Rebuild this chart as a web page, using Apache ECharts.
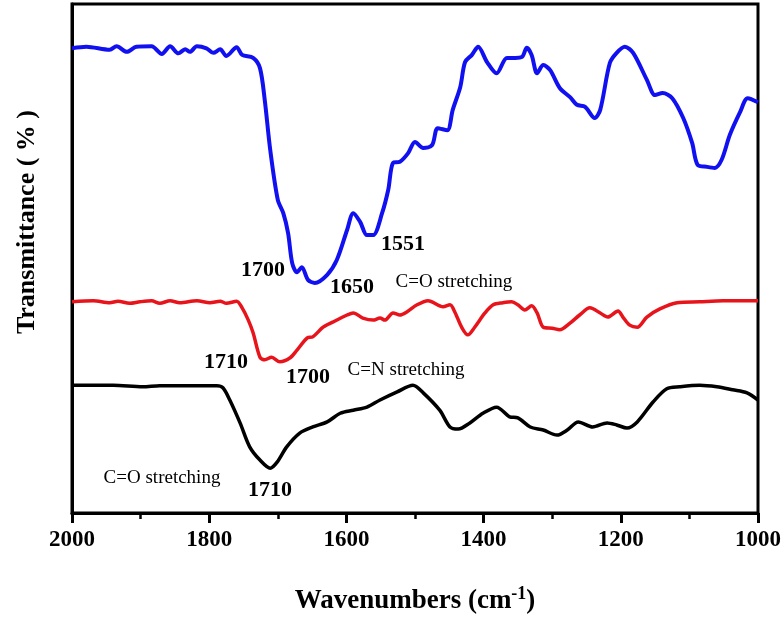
<!DOCTYPE html>
<html>
<head>
<meta charset="utf-8">
<script src="https://cdn.jsdelivr.net/npm/echarts@6/dist/echarts.min.js"></script>
<style>html,body{margin:0;padding:0;background:#fff;}#chart{width:784px;height:617px;}</style>
</head>
<body>
<div id="chart"></div>
<script>
// Blue spectrum (top)
const blueWn = [2000,1979,1945,1935,1920,1906,1884,1869,1857,1845,1835,1828,1818,1804,1794,1784,1775,1760,1752,1736,1726,1719,1711,1700,1692,1685,1679,1672,1665,1656,1646,1628,1614,1599,1590,1580,1570,1561,1548,1539,1532,1522,1510,1500,1488,1475,1467,1453,1445,1434,1427,1417,1408,1395,1381,1366,1354,1344,1337,1330,1322,1313,1303,1289,1274,1264,1252,1238,1230,1216,1206,1194,1182,1162,1150,1139,1125,1109,1096,1088,1074,1063,1053,1041,1026,1015,1000];
const blueT = [91.3,91.6,91.0,91.7,90.6,91.6,91.7,90.2,91.7,90.3,91.1,90.6,91.7,91.3,90.4,91.1,89.8,91.5,90.0,89.4,87.4,81.1,71.3,61.5,58.9,55.0,49.1,47.3,48.3,45.8,45.2,46.8,49.7,55.6,58.9,57.2,54.6,54.6,58.9,63.5,68.8,69.0,70.7,72.9,71.7,72.3,75.6,75.2,79.2,83.7,88.6,90.0,91.6,88.6,86.4,89.4,89.4,89.6,91.4,90.0,86.4,88.0,87.0,83.5,81.7,80.2,79.8,77.6,79.2,88.4,90.4,91.6,90.4,85.1,82.1,82.5,81.5,77.6,72.7,68.4,68.0,67.8,69.4,74.3,78.8,81.5,80.7];

// Red spectrum (middle)
const redWn = [2000,1969,1945,1933,1916,1901,1884,1872,1857,1843,1818,1799,1784,1775,1760,1752,1743,1736,1726,1719,1709,1697,1682,1672,1657,1649,1634,1620,1599,1590,1576,1561,1551,1544,1532,1522,1512,1497,1481,1459,1449,1442,1432,1423,1413,1398,1386,1372,1359,1350,1340,1330,1322,1313,1300,1289,1274,1260,1245,1230,1219,1204,1197,1187,1176,1162,1143,1118,1085,1051,1000];
const redT = [41.5,41.7,41.3,41.6,41.2,41.5,41.7,41.2,41.7,41.3,41.7,41.3,41.6,41.2,41.6,40.3,37.9,35.4,30.6,30.1,30.6,29.7,30.5,32.0,34.4,34.6,36.5,37.5,38.9,39.3,38.3,37.9,38.3,37.9,39.3,38.9,39.5,40.9,41.7,40.5,40.9,39.5,36.5,35.0,36.5,39.3,40.9,41.3,41.5,40.9,39.9,40.7,39.3,36.5,36.3,36.0,37.3,38.9,40.3,39.3,38.5,39.7,38.5,36.9,36.5,38.5,40.1,41.3,41.5,41.7,41.7];

// Black spectrum (bottom)
const blackWn = [2000,1940,1897,1872,1789,1780,1770,1755,1741,1726,1711,1701,1687,1668,1649,1628,1609,1590,1570,1551,1526,1503,1488,1464,1449,1437,1420,1401,1381,1362,1350,1332,1313,1293,1278,1262,1241,1220,1206,1191,1176,1153,1133,1114,1085,1060,1037,1016,1000];
const blackT = [25.1,25.1,24.8,25.0,25.0,24.6,22.2,17.7,13.0,10.4,8.8,10.0,13.0,15.7,16.9,17.9,19.6,20.2,20.8,22.2,23.8,25.1,23.6,20.2,16.9,16.5,17.7,19.6,20.8,18.9,18.7,16.9,16.3,15.3,16.3,17.9,16.9,17.7,17.3,16.7,17.9,21.8,24.4,24.8,25.1,24.8,24.2,23.6,22.2];

// Annotations
const annoText = ['1700','1650','1551','C=O stretching','1710','1700','C=N stretching','C=O stretching','1710'];
const annoWn   = [1721.6,1591.8,1517.5,1443.2,1775.5,1656,1513.1,1868.8,1711.4];
const annoT    = [47.7,44.4,52.7,45.4,29.7,26.7,28.1,6.9,4.5];
const annoBold = [true,true,true,false,true,true,false,false,true];

// Axis ticks
const xTicks = [2000,1800,1600,1400,1200,1000];

const FONT = "'Liberation Serif','Times New Roman',serif";
const zip = (a,b) => a.map((v,i)=>[v,b[i]]);

const chart = echarts.init(document.getElementById('chart'));
const lineSeries = (data, color, w) => ({
  type:'line', data, showSymbol:false, symbol:'none', smooth:0.3,
  lineStyle:{color, width:w}, z:3, animation:false
});

chart.setOption({
  animation:false,
  grid:{left:72, right:26, top:4, bottom:104, show:true, borderColor:'#000', borderWidth:3,
        containLabel:false, outerBoundsMode:'none'},
  xAxis:{
    type:'value', inverse:true, min:1000, max:2000, interval:200,
    axisLine:{show:true, lineStyle:{color:'#000', width:3}},
    axisTick:{show:true, inside:false, length:10, lineStyle:{color:'#000', width:3}},
    minorTick:{show:true, splitNumber:2, length:6, lineStyle:{color:'#000', width:2.5}},
    splitLine:{show:false},
    axisLabel:{margin:16, color:'#000', fontFamily:FONT, fontWeight:'bold', fontSize:23,
      formatter:v => xTicks.includes(v) ? String(v) : ''},
    name:'{a|Wavenumbers (cm}{s|-1}{a|)}',
    nameLocation:'middle', nameGap:72,
    nameTextStyle:{rich:{
      a:{fontFamily:FONT, fontWeight:'bold', fontSize:27, color:'#000', verticalAlign:'bottom', lineHeight:30},
      s:{fontFamily:FONT, fontWeight:'bold', fontSize:18, color:'#000', verticalAlign:'top', lineHeight:30, padding:[0,0,14,0]}
    }}
  },
  yAxis:{
    type:'value', min:0, max:100,
    axisLine:{show:true, lineStyle:{color:'#000', width:3}},
    axisTick:{show:false}, axisLabel:{show:false}, splitLine:{show:false}
  },
  graphic:[{
    type:'text', left:14, top:110, rotation:Math.PI/2,
    style:{text:'Transmittance ( % )', font:"bold 26px " + FONT, fill:'#000'}
  }],
  series:[
    lineSeries(zip(blueWn, blueT), '#1010f0', 4),
    lineSeries(zip(redWn, redT), '#e8141c', 3.5),
    lineSeries(zip(blackWn, blackT), '#000000', 3.5),
    {
      type:'scatter', symbolSize:0, z:5, silent:true,
      itemStyle:{opacity:1},
      data: annoText.map((t,i)=>({
        value:[annoWn[i], annoT[i]], name:t,
        label:{show:true, position:'inside', formatter:t, color:'#000', opacity:1, textBorderWidth:0, fontFamily:FONT,
          fontWeight: annoBold[i] ? 'bold' : 'normal', fontSize: annoBold[i] ? 22 : 19}
      }))
    }
  ]
});
</script>
</body>
</html>
